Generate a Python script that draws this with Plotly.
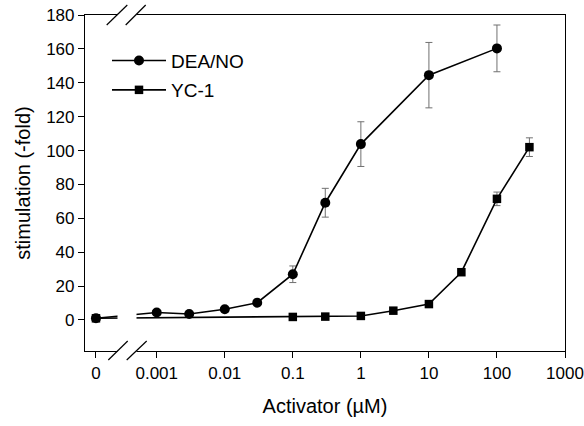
import plotly.graph_objects as go

# ---- data ----
conc_dea = [0, 0.001, 0.003, 0.01, 0.03, 0.1, 0.3, 1, 10, 100]
stim_dea = [1.0, 4.4, 3.5, 6.3, 10.2, 27.0, 69.2, 103.8, 144.5, 160.3]
err_dea = [0, 0, 0, 0, 0, 4.9, 8.5, 13.2, 19.3, 13.8]

conc_yc = [0, 0.1, 0.3, 1, 3, 10, 30, 100, 300]
stim_yc = [1.0, 1.8, 2.0, 2.4, 5.5, 9.4, 28.2, 71.5, 102.0]
err_yc = [0, 0, 0, 0, 0, 0, 1.0, 4.0, 5.5]

x_tick_vals = [0, 0.001, 0.01, 0.1, 1, 10, 100, 1000]
x_tick_text = ["0", "0.001", "0.01", "0.1", "1", "10", "100", "1000"]
y_tick_vals = [0, 20, 40, 60, 80, 100, 120, 140, 160, 180]

# the "0" dose sits left of the axis break on the log axis
ZERO_AT = 1.28e-4


def pos(c):
    return [ZERO_AT if v == 0 else v for v in c]


FONT = "Liberation Sans, Arial, sans-serif"

fig = go.Figure()
fig.add_trace(go.Scatter(
    x=pos(conc_dea), y=stim_dea, name="DEA/NO", mode="lines+markers",
    line=dict(color="black", width=1.6),
    marker=dict(symbol="circle", size=10, color="black"),
    error_y=dict(type="data", array=err_dea, visible=True, color="#707070",
                 thickness=1, width=3.5),
    legend="legend",
))
fig.add_trace(go.Scatter(
    x=pos(conc_yc), y=stim_yc, name="YC-1", mode="lines+markers",
    line=dict(color="black", width=1.6),
    marker=dict(symbol="square", size=8.5, color="black"),
    error_y=dict(type="data", array=err_yc, visible=True, color="#707070",
                 thickness=1, width=3.5),
    legend="legend2",
))

# plot area in pixels: x 85..565, y 15..351
L, R, T, B = 85, 565, 15, 351
W, H = R - L, B - T


def px(X):
    return (X - L) / W


def py(Y):
    return (B - Y) / H


shapes = []
# white masks for the axis break (bottom incl. data lines, top axis line)
shapes.append(dict(type="rect", xref="paper", yref="paper",
                   x0=px(117.5), x1=px(136.5), y0=py(356), y1=py(295),
                   fillcolor="white", line=dict(width=0), layer="above"))
shapes.append(dict(type="rect", xref="paper", yref="paper",
                   x0=px(117.5), x1=px(136.5), y0=py(20), y1=py(10),
                   fillcolor="white", line=dict(width=0), layer="above"))
# break slashes
for (x0, y0, x1, y1) in [(108.3, 360, 127.7, 341), (126.7, 360, 146.7, 341),
                         (106.7, 25, 127.3, 5), (125.7, 25, 145.7, 5)]:
    shapes.append(dict(type="line", xref="paper", yref="paper",
                       x0=px(x0), y0=py(y0), x1=px(x1), y1=py(y1),
                       line=dict(color="black", width=1.2), layer="above"))

legend_common = dict(font=dict(family=FONT, size=19, color="black"),
                     bgcolor="rgba(0,0,0,0)", borderwidth=0,
                     xanchor="left", yanchor="middle", itemwidth=54)

fig.update_layout(
    width=584, height=426,
    margin=dict(l=L, r=584 - R, t=T, b=426 - B, autoexpand=False),
    paper_bgcolor="white", plot_bgcolor="white",
    font=dict(family=FONT, color="black"),
    showlegend=True,
    legend=dict(x=px(107), y=py(60.7), **legend_common),
    legend2=dict(x=px(107), y=py(90), **legend_common),
    shapes=shapes,
    xaxis=dict(
        type="log", range=[-4.054, 3.0], automargin=False,
        tickvals=pos(x_tick_vals), ticktext=x_tick_text,
        ticks="outside", ticklen=6, tickwidth=1, tickcolor="black",
        showline=True, linecolor="black", linewidth=1.2, mirror=True,
        showgrid=False, zeroline=False,
        tickfont=dict(family=FONT, size=17),
        title=dict(text="Activator (µM)", font=dict(family=FONT, size=20), standoff=17),
    ),
    yaxis=dict(
        range=[-18.3, 180], automargin=False,
        tickvals=y_tick_vals,
        ticks="outside", ticklen=6, tickwidth=1, tickcolor="black",
        showline=True, linecolor="black", linewidth=1.2, mirror=True,
        showgrid=False, zeroline=False,
        tickfont=dict(family=FONT, size=17),
        title=dict(text="stimulation (-fold)", font=dict(family=FONT, size=20), standoff=10),
    ),
)

fig.write_html("out.html")
